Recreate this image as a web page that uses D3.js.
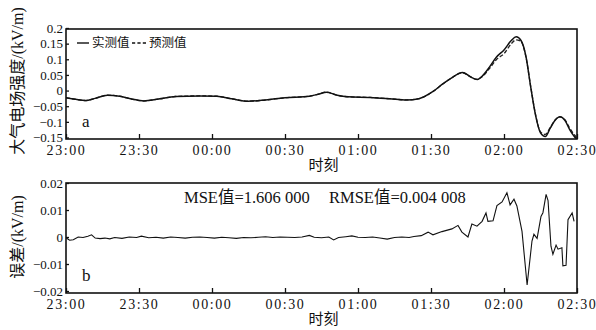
<!DOCTYPE html>
<html>
<head>
    <meta charset="utf-8">
    <title>大气电场强度 实测值与预测值</title>
    <style>
        body { margin: 0; background: #fff; }
        text { font-family: "Liberation Serif", "Noto Sans CJK SC", serif; fill: #111; }
    </style>
</head>
<body>
    <script src="https://cdn.jsdelivr.net/npm/d3@7"></script>
    <svg id="chart" width="596" height="330"></svg>

    <script>
        // time axis (minutes after 23:00) and labels
        var timeTicks = [0, 30, 60, 90, 120, 150, 180, 210];
        var timeLabels = ["23:00", "23:30", "00:00", "00:30", "01:00", "01:30", "02:00", "02:30"];

        // panel a: field strength, kV/m
        var fieldTicks = [-0.15, -0.1, -0.05, 0, 0.05, 0.1, 0.15, 0.2];
        var fieldT = [0, 4, 8, 12, 17, 22, 27, 32, 38, 45, 55, 62, 68, 75, 82, 90, 100, 104, 107, 111,
                      116, 125, 133, 140, 145, 151, 155, 158, 163, 166, 169, 171, 174, 177, 180, 183,
                      185, 187, 189, 191, 193, 195, 197, 199, 201, 203, 205, 207, 209, 210];
        var measured = [-0.023, -0.028, -0.032, -0.025, -0.015, -0.018, -0.027, -0.033, -0.027, -0.019,
                        -0.017, -0.018, -0.026, -0.034, -0.030, -0.023, -0.018, -0.011, -0.005, -0.014,
                        -0.020, -0.022, -0.026, -0.030, -0.026, -0.002, 0.022, 0.038, 0.058, 0.045,
                        0.035, 0.046, 0.075, 0.108, 0.130, 0.160, 0.172, 0.160, 0.110, 0.010,
                        -0.080, -0.135, -0.147, -0.120, -0.095, -0.084, -0.095, -0.125, -0.148, -0.155];
        var predicted = [-0.023, -0.028, -0.032, -0.025, -0.015, -0.018, -0.027, -0.033, -0.027, -0.019,
                         -0.017, -0.018, -0.026, -0.034, -0.030, -0.023, -0.018, -0.011, -0.005, -0.014,
                         -0.020, -0.022, -0.026, -0.030, -0.026, -0.002, 0.022, 0.038, 0.057, 0.045,
                         0.036, 0.044, 0.070, 0.100, 0.118, 0.150, 0.162, 0.157, 0.108, 0.012,
                         -0.078, -0.132, -0.140, -0.118, -0.094, -0.084, -0.093, -0.120, -0.142, -0.150];

        // panel b: error, kV/m
        var errTicks = [-0.02, -0.01, 0, 0.01, 0.02];
        var errT = [0, 1.5, 3, 5, 7, 9, 10.5, 12, 14, 16, 18, 20, 23, 26, 29, 31, 34, 37, 40, 43,
                    46, 49, 52, 55, 58, 61, 64, 67, 70, 73, 76, 79, 82, 85, 88, 91, 94, 97, 100, 102,
                    105, 108, 110, 112, 115, 117.5, 120, 123, 126, 129, 132, 135, 138, 141, 143, 146,
                    148.8, 150.8, 154.5, 158.6, 161.1, 162.7, 165.2, 166.8, 168.9, 171, 172.6, 173.4,
                    175.5, 177.1, 179.2, 181.2, 182.5, 184.1, 185.3, 187.4, 189.5, 191.5, 192.3, 193.6,
                    195.2, 196, 197.3, 198.1, 199.3, 200.1, 201.4, 202.2, 203.8, 204.2, 205.5, 206.3,
                    208, 208.8];
        var errV = [-0.0003, -0.0012, -0.0010, 0.0000, -0.0002, 0.0003, 0.0008, -0.0004, -0.0006, -0.0004,
                    -0.0007, -0.0002, -0.0005, 0.0000, -0.0002, 0.0003, -0.0003, -0.0001, -0.0004, 0.0000,
                    -0.0002, -0.0004, -0.0001, 0.0000, -0.0002, -0.0004, -0.0001, -0.0003, -0.0005, -0.0002,
                    -0.0003, -0.0001, 0.0001, -0.0002, 0.0000, -0.0001, -0.0002, 0.0000, 0.0006, -0.0001,
                    -0.0003, 0.0000, -0.0011, -0.0002, 0.0001, 0.0004, -0.0001, -0.0002, 0.0000, -0.0004,
                    -0.0008, -0.0002, 0.0000, -0.0002, 0.0002, 0.0005, 0.0018, 0.0008, 0.0020, 0.0030,
                    0.0043, 0.0018, 0.0000, 0.0048, 0.0040, 0.0058, 0.0089, 0.0058, 0.0060, 0.0116,
                    0.0130, 0.0164, 0.0119, 0.0140, 0.0115, 0.0021, -0.0178, -0.0015, 0.0010, -0.0005,
                    0.0076, 0.0090, 0.0158, 0.0135, -0.0034, -0.0064, -0.0030, -0.0045, -0.0040, -0.0107,
                    -0.0105, 0.0064, 0.0089, 0.0058];

        var svg = d3.select("#chart");
        var left = 66, right = 577;

        var x = d3.scaleLinear().domain([0, 210]).range([left, right]);

        // top/bottom = frame, yTop/yBottom = where the first and last y ticks sit
        function panel(top, bottom, yTop, yBottom, yDomain, yTicks, yTitle, titleY, letter, id) {
            var y = d3.scaleLinear().domain(yDomain).range([yBottom, yTop]);

            svg.append("clipPath").attr("id", id)
               .append("rect")
               .attr("x", left).attr("y", top)
               .attr("width", right - left).attr("height", bottom - top);

            // x axis, ticks pointing inward
            svg.append("g")
               .attr("transform", "translate(0," + bottom + ")")
               .call(d3.axisBottom(x)
                    .tickValues(timeTicks)
                    .tickFormat(function(d, i) { return timeLabels[i]; })
                    .tickSizeInner(-5).tickSizeOuter(0).tickPadding(6))
               .call(function(g) { g.select(".domain").remove(); })
               .call(function(g) {
                    g.selectAll("line").attr("stroke", "#111").attr("stroke-width", 1.3);
                    g.selectAll("text").attr("fill", "#111")
                     .style("font-size", "14px").style("letter-spacing", "1.6px")
                     .style("font-family", "'Liberation Serif', serif");
               });

            // y axis
            svg.append("g")
               .attr("transform", "translate(" + left + ",0)")
               .call(d3.axisLeft(y)
                    .tickValues(yTicks)
                    .tickFormat(d3.format(""))
                    .tickSizeInner(-3).tickSizeOuter(0).tickPadding(3))
               .call(function(g) { g.select(".domain").remove(); })
               .call(function(g) {
                    g.selectAll("line").attr("stroke", "#111").attr("stroke-width", 1.3);
                    g.selectAll("text").attr("fill", "#111")
                     .style("font-size", "13px")
                     .style("font-family", "'Liberation Serif', serif");
               });

            // frame
            svg.append("rect")
               .attr("x", left).attr("y", top)
               .attr("width", right - left).attr("height", bottom - top)
               .attr("fill", "none").attr("stroke", "#111").attr("stroke-width", 1.6);

            svg.append("text")
               .attr("transform", "translate(17," + titleY + ") rotate(-90)")
               .attr("text-anchor", "middle")
               .attr("dominant-baseline", "central")
               .style("font-size", "16px")
               .text(yTitle);

            svg.append("text")
               .attr("x", (left + right) / 2 + 2)
               .attr("y", bottom + 26)
               .attr("text-anchor", "middle")
               .attr("dominant-baseline", "central")
               .style("font-size", "15px")
               .text("时刻");

            svg.append("text")
               .attr("x", 82).attr("y", bottom - 12)
               .style("font-size", "17px")
               .text(letter);

            return y;
        }

        // panel a
        var yA = panel(29, 139, 28, 137.5, [-0.15, 0.2], fieldTicks, "大气电场强度/(kV/m)", 81, "a", "clipA");

        var lineA = d3.line()
            .x(function(d, i) { return x(fieldT[i]); })
            .y(function(d) { return yA(d); })
            .curve(d3.curveMonotoneX);

        svg.append("path")
           .datum(predicted)
           .attr("clip-path", "url(#clipA)")
           .attr("d", lineA)
           .attr("fill", "none").attr("stroke", "#222")
           .attr("stroke-width", 1.3).attr("stroke-dasharray", "4,2");

        svg.append("path")
           .datum(measured)
           .attr("clip-path", "url(#clipA)")
           .attr("d", lineA)
           .attr("fill", "none").attr("stroke", "#111")
           .attr("stroke-width", 1.5);

        // legend
        var legend = svg.append("g").attr("transform", "translate(0,43)");
        legend.append("line").attr("x1", 77).attr("x2", 89)
              .attr("stroke", "#111").attr("stroke-width", 1.4);
        legend.append("text").attr("x", 92).attr("dominant-baseline", "central")
              .style("font-size", "12.5px").text("实测值");
        legend.append("line").attr("x1", 132).attr("x2", 146)
              .attr("stroke", "#111").attr("stroke-width", 1.4).attr("stroke-dasharray", "3.2,2.2");
        legend.append("text").attr("x", 149).attr("dominant-baseline", "central")
              .style("font-size", "12.5px").text("预测值");

        // panel b
        var yB = panel(183, 293, 183, 291, [-0.02, 0.02], errTicks, "误差/(kV/m)", 237, "b", "clipB");

        var lineB = d3.line()
            .x(function(d, i) { return x(errT[i]); })
            .y(function(d) { return yB(d); });

        svg.append("path")
           .datum(errV)
           .attr("clip-path", "url(#clipB)")
           .attr("d", lineB)
           .attr("fill", "none").attr("stroke", "#111")
           .attr("stroke-width", 1.1);

        svg.append("text").attr("x", 184).attr("y", 203)
           .style("font-size", "16.5px").text("MSE值=1.606 000");
        svg.append("text").attr("x", 329).attr("y", 203)
           .style("font-size", "16.5px").text("RMSE值=0.004 008");
    </script>
</body>
</html>
